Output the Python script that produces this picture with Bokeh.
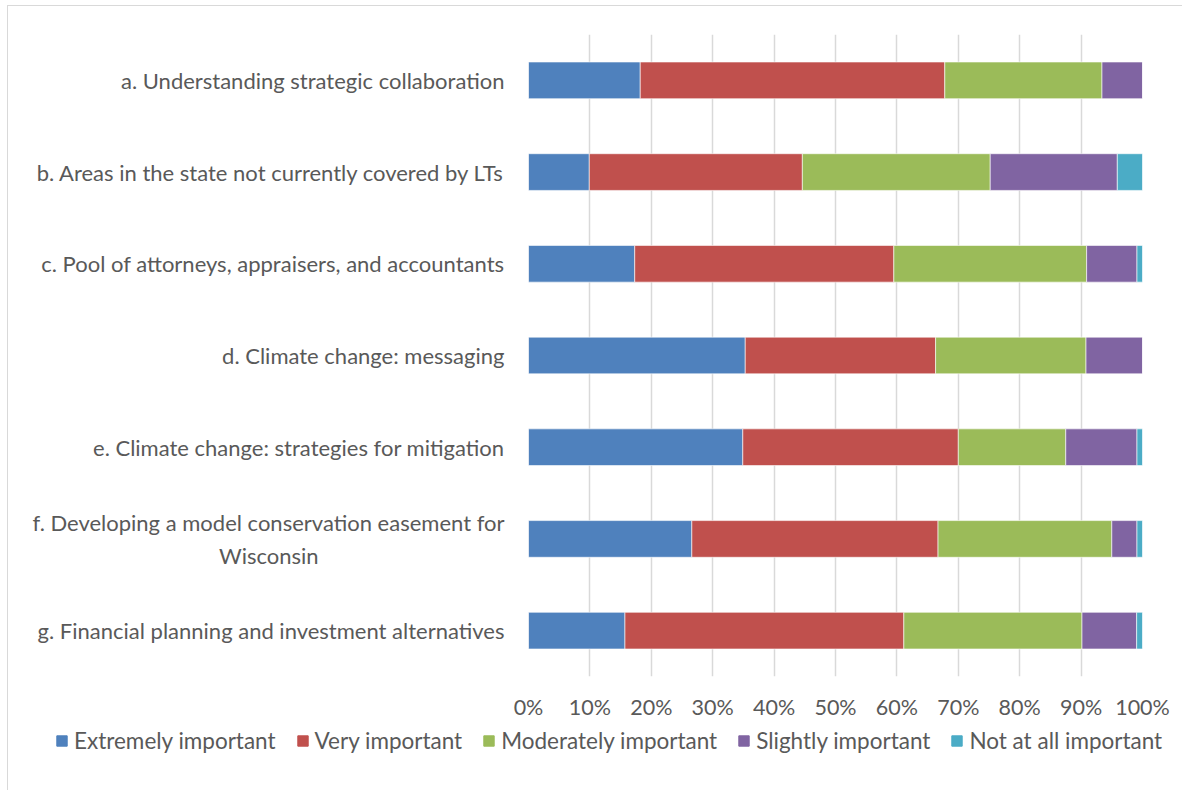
from bokeh.plotting import figure
from bokeh.layouts import column, row
from bokeh.models import ColumnDataSource, Legend, LegendItem, FixedTicker
from bokeh.embed import file_html
from bokeh.resources import INLINE

NBSP = "\u00a0"
categories = [
    "a. Understanding strategic collaboration",
    "b. Areas in the state not currently covered by LTs",
    "c. Pool of attorneys, appraisers, and accountants",
    "d. Climate change: messaging",
    "e. Climate change: strategies for mitigation",
    "f. Developing a model conservation easement for\nWisconsin" + NBSP * 33,
    "g. Financial planning and investment alternatives",
]
series_names = ["Extremely important", "Very important", "Moderately important",
                "Slightly important", "Not at all important"]
extremely = [18.2, 9.9, 17.3, 35.3, 34.9, 26.6, 15.7]
very = [49.6, 34.7, 42.2, 31.0, 35.1, 40.1, 45.4]
moderately = [25.6, 30.6, 31.4, 24.5, 17.5, 28.3, 29.0]
slightly = [6.6, 20.7, 8.2, 9.2, 11.6, 4.1, 8.9]
not_at_all = [0.0, 4.1, 0.9, 0.0, 0.9, 0.9, 0.95]
colors = ["#4F81BD", "#C0504D", "#9BBB59", "#8064A2", "#4BACC6"]
x_ticks = [0, 10, 20, 30, 40, 50, 60, 70, 80, 90, 100]

FONT = "Lato"
TXT = "#595959"

keys = ["s0", "s1", "s2", "s3", "s4"]
vals = [extremely, very, moderately, slightly, not_at_all]
totals = [sum(r) for r in zip(*vals)]
data = {"cat": categories}
for k, v in zip(keys, vals):
    data[k] = [a * 100.0 / t for a, t in zip(v, totals)]
source = ColumnDataSource(data)

p = figure(
    y_range=list(reversed(categories)), x_range=(0, 100),
    frame_width=614, frame_height=642,
    min_border_left=520, min_border_right=40, min_border_top=28, min_border_bottom=44,
    output_backend="svg", toolbar_location=None,
)
renderers = p.hbar_stack(keys, y="cat", height=0.4, color=colors, source=source,
                         line_color="white", line_width=0.6)

p.outline_line_color = None
p.background_fill_color = "white"
p.border_fill_color = "white"

p.xgrid.grid_line_color = "#D9D9D9"
p.xgrid.grid_line_width = 1.5
p.ygrid.grid_line_color = None

p.xaxis.ticker = FixedTicker(ticks=x_ticks)
p.xaxis.major_label_overrides = {t: f"{t}%" for t in x_ticks}
p.xaxis.axis_line_color = None
p.xaxis.major_tick_line_color = None
p.xaxis.minor_tick_line_color = None
p.xaxis.major_label_standoff = 11
p.xaxis.major_label_text_font = FONT
p.xaxis.major_label_text_font_size = "21.5px"
p.xaxis.major_label_text_color = TXT

p.yaxis.axis_line_color = None
p.yaxis.major_tick_line_color = None
p.yaxis.minor_tick_line_color = None
p.yaxis.major_label_standoff = 18
p.yaxis.major_label_text_font = FONT
p.yaxis.major_label_text_font_size = "22px"
p.yaxis.major_label_text_color = TXT

# legend strip below the chart (its own small plot spanning the full width)
lg = figure(frame_width=1174, frame_height=68, x_range=(0, 1), y_range=(0, 1),
            min_border=0, min_border_left=0, min_border_right=0,
            min_border_top=0, min_border_bottom=0,
            x_axis_location=None, y_axis_location=None,
            output_backend="svg", toolbar_location=None)
lg.grid.visible = False
lg.outline_line_color = None
lg.background_fill_color = "white"
lg.border_fill_color = "white"
dummies = [lg.hbar(y=[5], left=[4], right=[5], height=0.5, color=c) for c in colors]
items = [LegendItem(label=n, renderers=[r]) for n, r in zip(series_names, dummies)]
legend = Legend(items=items, orientation="horizontal", location=(47, 36),
                label_text_font=FONT, label_text_font_size="22.5px", label_text_color=TXT,
                glyph_width=13, glyph_height=13, spacing=20, label_standoff=6,
                padding=0, margin=0, border_line_color=None, background_fill_alpha=0)
lg.add_layout(legend, "center")

layout = column(p, row(lg), spacing=0)
layout.styles = {"margin-left": "7px", "margin-top": "5px",
                 "border-left": "1.5px solid #D9D9D9", "border-top": "1.5px solid #D9D9D9"}

open("out.html", "w").write(file_html(layout, INLINE))
